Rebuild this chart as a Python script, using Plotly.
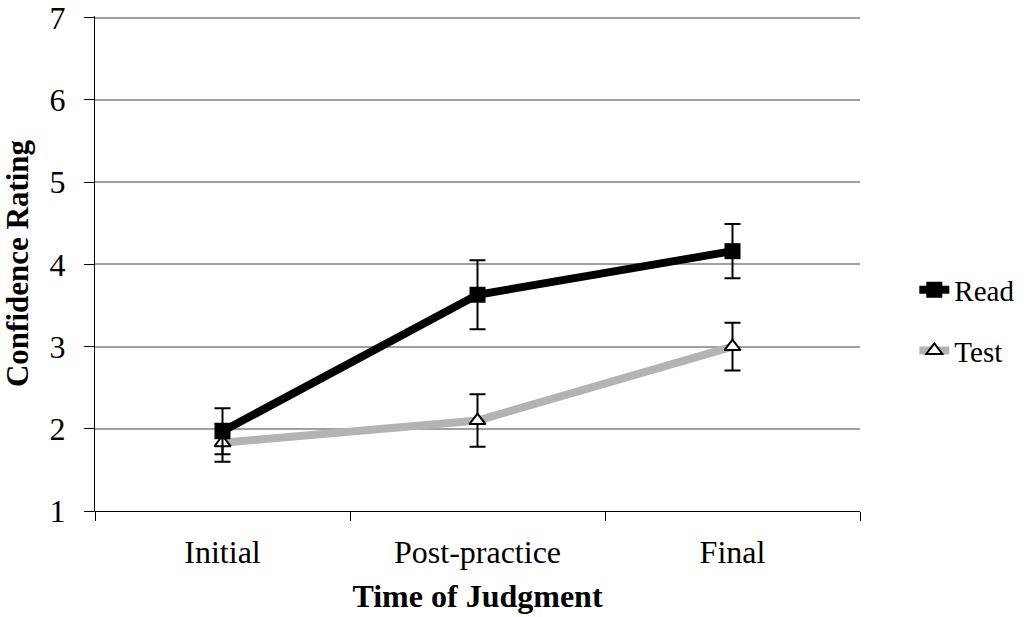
import plotly.graph_objects as go

categories = ["Initial", "Post-practice", "Final"]
read_vals = [1.97, 3.63, 4.16]
read_err = [0.28, 0.42, 0.33]
test_vals = [1.83, 2.10, 3.00]
test_err = [0.23, 0.32, 0.29]
y_ticks = [1, 2, 3, 4, 5, 6, 7]

FONT = "Liberation Serif"

fig = go.Figure()
fig.add_trace(go.Scatter(
    x=categories, y=test_vals, name="Test", mode="lines+markers",
    legendrank=2, legendgroup="test",
    line=dict(color="#b3b3b3", width=8),
    marker=dict(symbol="triangle-up", size=14, color="white",
                line=dict(color="black", width=2)),
    error_y=dict(type="data", array=test_err, color="black", thickness=2, width=8),
))
fig.add_trace(go.Scatter(
    x=categories, y=read_vals, name="Read", mode="lines+markers",
    legendrank=1, legendgroup="read",
    line=dict(color="black", width=8),
    marker=dict(symbol="square", size=16, color="black"),
    error_y=dict(type="data", array=read_err, color="black", thickness=2, width=8),
))

fig.update_layout(
    width=1034, height=617,
    margin=dict(l=95, r=174, t=16, b=106),
    paper_bgcolor="white", plot_bgcolor="white",
    font=dict(family=FONT, size=30, color="black"),
    showlegend=True,
    legend=dict(x=1.071, y=0.385, xanchor="left", yanchor="middle",
                traceorder="grouped", itemwidth=30,
                font=dict(family=FONT, size=29), tracegroupgap=20,
                bgcolor="rgba(0,0,0,0)"),
    xaxis=dict(
        type="category", range=[-0.5, 2.5], tickson="boundaries",
        ticks="outside", ticklen=9, tickcolor="black", tickwidth=1,
        showline=True, linecolor="black", linewidth=1,
        showgrid=False, zeroline=False, automargin=False,
        ticklabelstandoff=13,
        title=dict(text="<b>Time of Judgment</b>", font=dict(family=FONT, size=32)),
        tickfont=dict(family=FONT, size=32),
    ),
    yaxis=dict(
        range=[1, 7.02], tickvals=y_ticks, ticks="outside", ticklen=10,
        tickcolor="black", showline=True, linecolor="black", linewidth=1,
        showgrid=True, gridcolor="#a0a0a0", gridwidth=1.5, zeroline=False,
        automargin=False, ticklabelstandoff=12, ticklabeloverflow="allow",
        title=dict(text="<b>Confidence Rating</b>", font=dict(family=FONT, size=31)),
        tickfont=dict(family=FONT, size=32),
    ),
)

fig.write_html("out.html")
